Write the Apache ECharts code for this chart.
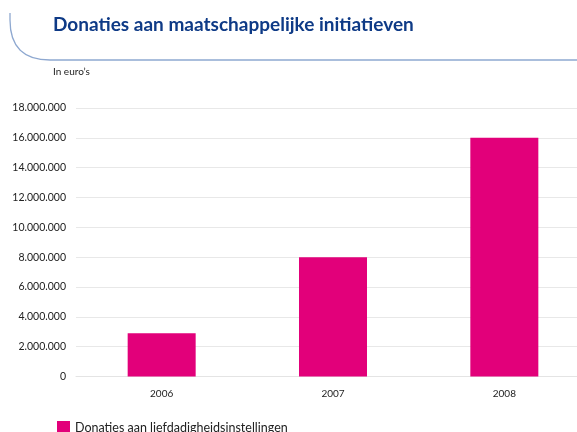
<!DOCTYPE html>
<html>
<head>
<meta charset="utf-8">
<script src="https://cdn.jsdelivr.net/npm/echarts@6/dist/echarts.min.js"></script>
<style>
  html, body { margin: 0; padding: 0; background: #fff; overflow: hidden; }
  /* wider than the window: the plot runs past the right edge in the original */
  #main { width: 590px; height: 432px; }
</style>
</head>
<body>
<div id="main"></div>
<script>
// data
var years = ['2006', '2007', '2008'];
var donaties = [2900000, 8000000, 16000000];
var seriesName = 'Donaties aan liefdadigheidsinstellingen';

var chart = echarts.init(document.getElementById('main'));

// 18000000 -> 18.000.000
function fmt(v) {
    return String(v).replace(/\B(?=(\d{3})+(?!\d))/g, '.');
}

var headerLine = { stroke: '#8ea8d0', lineWidth: 1.3, fill: null };

chart.setOption({
    animation: false,
    textStyle: { fontFamily: 'Lato, "Open Sans", sans-serif' },
    title: {
        text: 'Donaties aan maatschappelijke initiatieven',
        left: 48,
        top: 10,
        textStyle: {
            fontSize: 19,
            fontWeight: 'bold',
            color: '#0e3a86',
            fontFamily: 'Lato, sans-serif'
        }
    },
    graphic: [
        // top-left rounded header line
        { type: 'line', shape: { x1: 10, y1: 13, x2: 10, y2: 20 }, style: headerLine },
        { type: 'bezierCurve', shape: { x1: 10, y1: 20, cpx1: 10, cpy1: 60, x2: 50, y2: 60 }, style: headerLine },
        { type: 'line', shape: { x1: 50, y1: 60, x2: 590, y2: 60 }, style: headerLine },
        {
            type: 'text',
            left: 53,
            top: 67,
            style: { text: 'In euro\u2019s', fontSize: 10, fill: '#222', fontFamily: 'Lato, sans-serif' }
        }
    ],
    legend: {
        left: 52,
        top: 416,
        icon: 'rect',
        itemWidth: 13,
        itemHeight: 13,
        itemGap: 8,
        textStyle: { fontSize: 12.5, color: '#222' },
        data: [seriesName]
    },
    grid: {
        left: 76,
        top: 108,
        right: 0,
        height: 268.5,
        containLabel: false
    },
    xAxis: {
        type: 'category',
        data: years,
        axisLine: { show: true, lineStyle: { color: '#e4e4e4' } },
        axisTick: { show: false },
        axisLabel: { color: '#222', fontSize: 10, margin: 12 }
    },
    yAxis: {
        type: 'value',
        min: 0,
        max: 18000000,
        interval: 2000000,
        axisLine: { show: false },
        axisTick: { show: false },
        splitLine: { lineStyle: { color: '#e8e8e8' } },
        axisLabel: { color: '#222', fontSize: 10.5, margin: 10, formatter: fmt }
    },
    series: [
        {
            name: seriesName,
            type: 'bar',
            data: donaties,
            barWidth: 68,
            itemStyle: { color: '#e2007a' }
        }
    ]
});
</script>
</body>
</html>
